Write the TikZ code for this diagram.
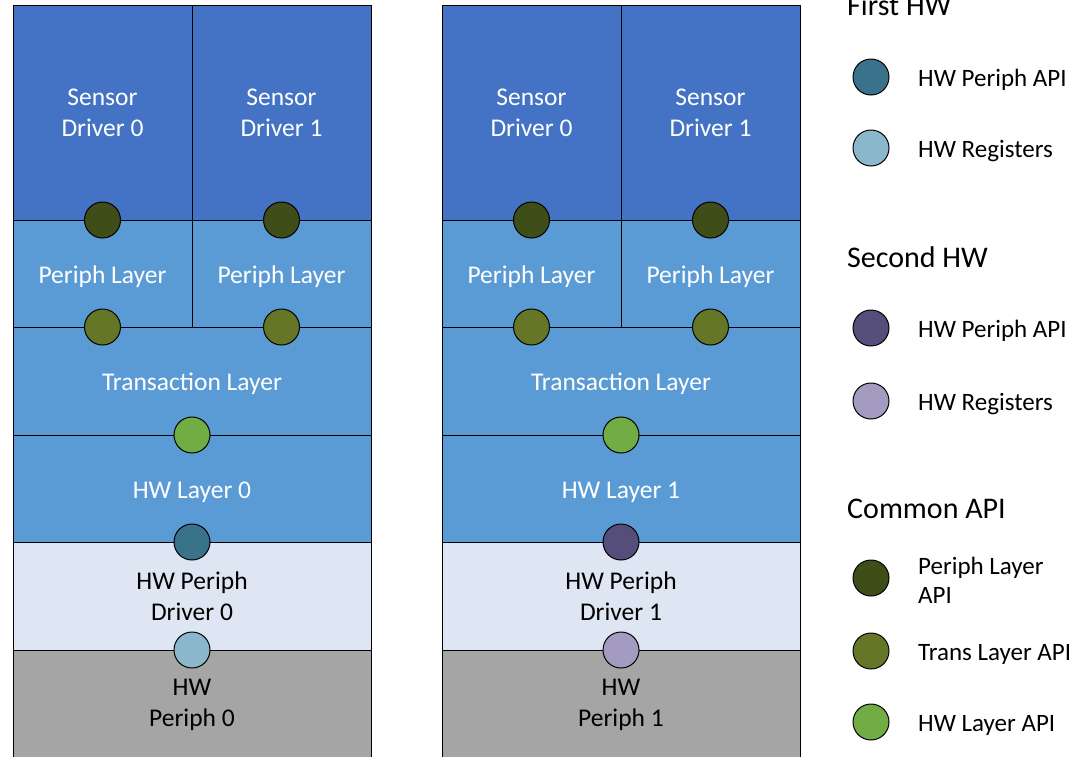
\documentclass[tikz,border=0pt]{standalone}
\usepackage{fontspec}
\setmainfont{Carlito}
\definecolor{sensorblue}{HTML}{4472C4}
\definecolor{layerblue}{HTML}{5B9BD5}
\definecolor{drvlight}{HTML}{DEE5F3}
\definecolor{hwgray}{HTML}{A5A5A5}
\definecolor{apiPeriph}{HTML}{3F4D19}
\definecolor{apiTrans}{HTML}{657726}
\definecolor{apiHW}{HTML}{71AC45}
\definecolor{hwApiA}{HTML}{3A728C}
\definecolor{regA}{HTML}{8AB7CB}
\definecolor{hwApiB}{HTML}{554D7A}
\definecolor{regB}{HTML}{A39CC0}
\tikzset{
  blk/.style={draw=black, line width=1pt, inner sep=0pt, outer sep=0pt, align=center,
    font=\fontsize{25.5}{31}\selectfont},
  oneline/.style={text height=20pt, text depth=1pt},
  halfblk/.style={blk, minimum width=179pt},
  fullblk/.style={blk, minimum width=358pt},
  dot/.style={circle, draw=black, line width=1pt, minimum size=36pt, inner sep=0pt, outer sep=0pt},
  legtext/.style={anchor=west, align=left, inner sep=0pt, font=\fontsize{25}{29}\selectfont},
  heading/.style={anchor=base west, inner sep=0pt, font=\fontsize{30}{36}\selectfont},
}
\newcommand\mystack[4]{%
  % #1 prefix, #2 number, #3 hw periph API colour, #4 registers colour
  \node[halfblk, fill=sensorblue, text=white, minimum height=215pt] (#1s0) at (102.5,112.5) {Sensor\\Driver 0};
  \node[halfblk, fill=sensorblue, text=white, minimum height=215pt] (#1s1) at (281.5,112.5) {Sensor\\Driver 1};
  \node[halfblk, oneline, fill=layerblue, text=white, minimum height=107pt] (#1p0) at (102.5,273.5) {Periph Layer};
  \node[halfblk, oneline, fill=layerblue, text=white, minimum height=107pt] (#1p1) at (281.5,273.5) {Periph Layer};
  \node[fullblk, oneline, fill=layerblue, text=white, minimum height=108pt] (#1tr) at (192,381) {Transaction Layer};
  \node[fullblk, oneline, fill=layerblue, text=white, minimum height=107pt] (#1hl) at (192,488.5) {HW Layer #2};
  \node[fullblk, fill=drvlight, text=black, minimum height=108pt] (#1dr) at (192,596) {HW Periph\\Driver #2};
  \node[fullblk, fill=hwgray, text=black, minimum height=110pt] (#1hw) at (192,705) {HW\\Periph #2};
  \node[dot, fill=apiPeriph] (#1c1) at (#1s0.south) {};
  \node[dot, fill=apiPeriph] (#1c2) at (#1s1.south) {};
  \node[dot, fill=apiTrans] (#1c3) at (#1p0.south) {};
  \node[dot, fill=apiTrans] (#1c4) at (#1p1.south) {};
  \node[dot, fill=apiHW] (#1c5) at (#1tr.south) {};
  \node[dot, fill=#3] (#1c6) at (#1hl.south) {};
  \node[dot, fill=#4] (#1c7) at (#1dr.south) {};
}
\begin{document}
\begin{tikzpicture}[x=1pt, y=-1pt]
\useasboundingbox (0,0) rectangle (1077,756);
\begin{scope}
  \mystack{a}{0}{hwApiA}{regA}
\end{scope}
\begin{scope}[xshift=429pt]
  \mystack{b}{1}{hwApiB}{regB}
\end{scope}
% legend
\node[heading] (h1) at (847,15) {First HW};
\node[dot, fill=hwApiA] (l1) at (871,77) {};
\node[legtext, oneline] (t1) at (918,77) {HW Periph API};
\node[dot, fill=regA] (l2) at (871,148) {};
\node[legtext, oneline] (t2) at (918,148) {HW Registers};
\node[heading] (h2) at (847,267) {Second HW};
\node[dot, fill=hwApiB] (l3) at (871,328) {};
\node[legtext, oneline] (t3) at (918,328) {HW Periph API};
\node[dot, fill=regB] (l4) at (871,401) {};
\node[legtext, oneline] (t4) at (918,401) {HW Registers};
\node[heading] (h3) at (847,518) {Common API};
\node[dot, fill=apiPeriph] (l5) at (871,578) {};
\node[legtext] (t5) at (918,580) {Periph Layer\\API};
\node[dot, fill=apiTrans] (l6) at (871,651) {};
\node[legtext, oneline] (t6) at (918,651) {Trans Layer API};
\node[dot, fill=apiHW] (l7) at (871,722) {};
\node[legtext, oneline] (t7) at (918,722) {HW Layer API};
\end{tikzpicture}
\end{document}
